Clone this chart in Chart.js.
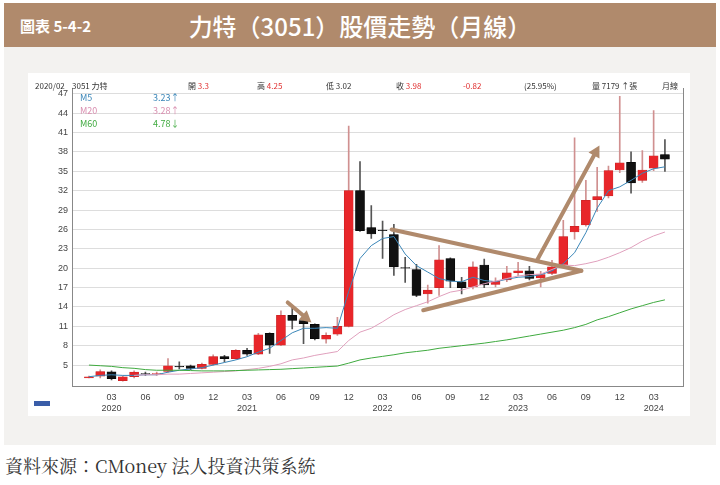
<!DOCTYPE html>
<html>
<head>
<meta charset="utf-8">
<script src="https://cdn.jsdelivr.net/npm/chart.js@4"></script>
<style>
  body { margin: 0; width: 720px; height: 485px; background: #fff; font-family: "Noto Sans CJK TC", "Noto Sans", sans-serif; position: relative; overflow: hidden; }
  .banner { position: absolute; left: 4px; top: 3px; width: 712px; height: 44px; background: #b08a6c; color: #fff; }
  .banner .no { position: absolute; left: 16px; top: 12px; font-size: 15px; font-weight: bold; }
  .banner .title { position: absolute; left: 0; width: 712px; top: 5px; text-align: center; font-size: 24px; font-weight: 500; }
  .panel { position: absolute; left: 4px; top: 47px; width: 712px; height: 398px; background: #f3f2f0; }
  .box { position: absolute; left: 28px; top: 73px; width: 662px; height: 343px; background: #fff; }
  .hd { position: absolute; top: 80px; font-size: 8px; color: #333; white-space: nowrap; }
  .r { color: #e03030; }
  .lg { position: absolute; font-size: 9px; white-space: nowrap; }
  .src { position: absolute; left: 5px; top: 452px; font-size: 18px; color: #333; font-family: "Noto Serif CJK TC", "DejaVu Serif", "Noto Sans CJK TC", serif; }
  .zoom { position: absolute; left: 34px; top: 401px; width: 16px; height: 5px; background: #3a5da8; }
</style>
</head>
<body>
<div class="banner"><span class="no">圖表 5-4-2</span><div class="title">力特（3051）股價走勢（月線）</div></div>
<div class="panel"></div>
<div class="box"><canvas id="chart" width="662" height="343"></canvas></div>
<div class="hd" style="left:35px">2020/02</div>
<div class="hd" style="left:72px">3051 力特</div>
<div class="hd" style="left:188px">開 <span class="r">3.3</span></div>
<div class="hd" style="left:257px">高 <span class="r">4.25</span></div>
<div class="hd" style="left:326px">低 3.02</div>
<div class="hd" style="left:396px">收 <span class="r">3.98</span></div>
<div class="hd r" style="left:463px">-0.82</div>
<div class="hd" style="left:524px">(25.95%)</div>
<div class="hd" style="left:592px">量 7179 ↑張</div>
<div class="hd" style="left:662px">月線</div>
<div class="lg" style="left:80px;top:91px;color:#3a86b8">M5</div>
<div class="lg" style="left:153px;top:91px;color:#3a86b8">3.23↑</div>
<div class="lg" style="left:80px;top:104px;color:#d98fb0">M20</div>
<div class="lg" style="left:153px;top:104px;color:#d98fb0">3.28↑</div>
<div class="lg" style="left:80px;top:117px;color:#3faa3f">M60</div>
<div class="lg" style="left:153px;top:117px;color:#3faa3f">4.78↓</div>
<div class="zoom"></div>
<div class="src">資料來源：CMoney 法人投資決策系統</div>
<script>
// months 2020/01 .. 2024/04
const months = [];
for (let y = 2020; y <= 2024; y++) {
  for (let m = 1; m <= 12; m++) {
    if (y === 2024 && m > 4) break;
    months.push({ y: y, m: m });
  }
}

const open  = [3.0,3.3,3.95,2.6,3.2,3.7,3.6,4.0,4.8,4.9,4.5,5.1,
               6.3,6.0,7.3,6.7,9.9,8.1,12.7,11.9,11.3,9.0,9.8,11.0,
               32.0,26.3,25.9,25.2,20.1,19.8,16.0,17.0,21.5,17.9,17.1,20.5,
               17.5,18.2,19.3,19.6,18.5,19.2,20.5,25.6,26.7,30.6,31.2,35.2,
               36.4,33.6,35.5,37.6];
const close = [3.2,3.98,2.9,3.2,3.9,3.6,3.7,4.9,4.7,4.5,5.1,6.3,
               6.0,7.3,6.7,9.7,8.1,12.7,11.9,11.4,9.1,9.6,11.0,32.0,
               25.8,25.3,25.8,20.2,20.0,15.8,16.6,21.3,18.0,17.0,20.2,17.4,
               18.0,19.3,19.6,18.4,19.0,20.2,24.9,26.5,30.5,31.1,35.1,36.3,
               33.2,35.2,37.4,36.9];
const high  = [3.3,4.25,4.1,3.3,4.1,3.9,3.9,6.0,5.5,5.0,5.3,6.6,
               6.5,7.4,7.6,9.9,10.0,13.4,13.9,12.5,11.4,10.0,12.4,42.0,
               36.5,29.7,27.3,26.8,21.7,20.6,17.4,23.5,21.6,18.6,21.0,21.4,
               18.5,20.3,20.9,20.3,19.5,21.2,27.4,40.2,33.6,35.6,35.8,46.6,
               38.0,38.2,44.4,39.9];
const low   = [3.0,3.02,2.7,2.5,3.0,3.4,3.4,3.9,4.4,4.3,4.4,5.0,
               5.5,5.9,6.5,6.6,6.8,8.0,10.6,8.3,8.9,8.4,9.6,10.9,
               25.7,24.6,21.5,18.9,17.8,15.6,14.6,15.8,17.0,16.0,16.8,17.0,
               17.1,17.9,18.8,18.2,17.1,19.0,20.3,24.5,26.5,28.8,30.9,34.8,
               31.6,33.3,35.1,35.0];

const m5  = [3.2,3.4,3.5,3.4,3.4,3.5,3.5,3.9,4.2,4.4,4.6,5.0,
             5.4,5.8,6.3,7.0,7.6,8.8,10.0,10.7,10.7,10.8,10.7,16.4,
             21.5,23.5,24.6,24.9,22.2,20.4,19.4,18.4,18.0,17.9,18.6,18.1,
             17.9,18.3,18.6,18.7,19.0,19.6,20.7,22.4,25.5,29.3,32.0,32.6,
             33.6,34.7,35.4,35.7];
const m20 = [null,null,null,null,3.4,3.5,3.5,3.6,3.6,3.7,3.8,3.9,
             4.0,4.1,4.3,4.5,4.8,5.2,5.8,6.1,6.5,6.8,7.1,8.8,
             10.1,10.7,11.7,12.8,13.6,14.2,14.8,15.6,16.3,16.6,17.1,17.6,
             18.0,18.4,18.8,19.0,19.1,19.8,20.5,20.4,20.7,21.1,21.7,22.4,
             23.2,24.2,25.0,25.6];
const m60 = [5.0,4.9,4.8,4.6,4.5,4.3,4.2,4.2,4.2,4.15,4.1,4.1,
             4.1,4.15,4.2,4.25,4.3,4.35,4.45,4.55,4.65,4.75,4.85,5.3,
             5.8,6.1,6.35,6.6,6.9,7.1,7.3,7.6,7.8,8.0,8.2,8.4,
             8.65,8.9,9.2,9.5,9.8,10.1,10.4,10.8,11.3,12.0,12.5,13.1,
             13.7,14.2,14.7,15.1];

const yTicks = [5,8,11,14,17,20,23,26,29,32,35,38,41,44,47];

// hand-drawn marks on the picture, in [month index, price]
const arrows = [
  { from: [17.6, 14.7], to: [19.7, 11.6], head: true },
  { from: [39.7, 21.3], to: [45.2, 39.0], head: true },
  { from: [26.8, 26.0], to: [43.6, 19.6], head: false },
  { from: [29.6, 13.5], to: [43.6, 19.6], head: false }
];

const RED = "#e8262a", BLACK = "#111111";
const up = open.map((o, i) => close[i] >= o);

const body = open.map((o, i) => ({ x: i, y: [o, close[i]] }));
const wick = low.map((l, i) => ({ x: i, y: [l, high[i]] }));
const line = (arr) => arr.map((v, i) => ({ x: i, y: v }));

const arrowPlugin = {
  id: "arrows",
  afterDatasetsDraw(chart) {
    const { ctx, scales, chartArea } = chart;
    ctx.save();
    // right frame line
    ctx.strokeStyle = "#888";
    ctx.lineWidth = 1;
    ctx.beginPath(); ctx.moveTo(chartArea.right + 0.5, chartArea.top); ctx.lineTo(chartArea.right + 0.5, chartArea.bottom); ctx.stroke();

    ctx.strokeStyle = "#b08a6c";
    ctx.fillStyle = "#b08a6c";
    ctx.lineWidth = 4;
    ctx.lineCap = "round";
    arrows.forEach((a) => {
      const x1 = scales.x.getPixelForValue(a.from[0]), y1 = scales.y.getPixelForValue(a.from[1]);
      const x2 = scales.x.getPixelForValue(a.to[0]), y2 = scales.y.getPixelForValue(a.to[1]);
      const ang = Math.atan2(y2 - y1, x2 - x1);
      const ex = a.head ? x2 - 8 * Math.cos(ang) : x2;
      const ey = a.head ? y2 - 8 * Math.sin(ang) : y2;
      ctx.beginPath(); ctx.moveTo(x1, y1); ctx.lineTo(ex, ey); ctx.stroke();
      if (a.head) {
        ctx.beginPath();
        ctx.moveTo(x2, y2);
        ctx.lineTo(x2 - 13 * Math.cos(ang - 0.5), y2 - 13 * Math.sin(ang - 0.5));
        ctx.lineTo(x2 - 13 * Math.cos(ang + 0.5), y2 - 13 * Math.sin(ang + 0.5));
        ctx.closePath(); ctx.fill();
      }
    });
    ctx.restore();
  }
};

new Chart(document.getElementById("chart"), {
  type: "bar",
  data: {
    datasets: [
      { type: "line", data: line(m60), borderColor: "#3faa3f", borderWidth: 1, pointRadius: 0, order: 1 },
      { type: "line", data: line(m20), borderColor: "#e0a0bd", borderWidth: 1, pointRadius: 0, order: 1 },
      { type: "line", data: line(m5), borderColor: "#3a86b8", borderWidth: 1, pointRadius: 0, order: 1 },
      {
        data: body, barThickness: 9, grouped: false, order: 2,
        backgroundColor: up.map((u) => (u ? RED : BLACK)),
        borderColor: up.map((u) => (u ? "#c02020" : "#000")), borderWidth: 0.5, borderSkipped: false
      },
      {
        data: wick, barThickness: 1, grouped: false, order: 3,
        backgroundColor: up.map((u) => (u ? "#d09090" : "#555"))
      }
    ]
  },
  options: {
    responsive: false,
    animation: false,
    layout: { padding: { left: 2, right: 7, top: 15, bottom: 0 } },
    plugins: { legend: { display: false }, tooltip: { enabled: false } },
    scales: {
      x: {
        type: "linear", min: -1.5, max: 52.6, offset: false,
        grid: { display: false, drawTicks: true, tickLength: 4 },
        border: { color: "#888" },
        afterBuildTicks(axis) {
          axis.ticks = months.map((d, i) => ({ value: i })).filter((t) => months[t.value].m % 3 === 0);
        },
        ticks: {
          autoSkip: false, maxRotation: 0, color: "#444", font: { size: 9 }, padding: 2,
          callback(v) {
            const d = months[v];
            const mm = String(d.m).padStart(2, "0");
            return d.m === 3 ? [mm, String(d.y)] : mm;
          }
        }
      },
      y: {
        min: 1.7, max: 47.9,
        afterFit(axis) { axis.width = 42; },
        afterBuildTicks(axis) { axis.ticks = yTicks.map((v) => ({ value: v })); },
        grid: { color: "#dddddd", drawTicks: false },
        border: { color: "#888" },
        ticks: { color: "#444", font: { size: 9 }, padding: 4 }
      }
    }
  },
  plugins: [arrowPlugin]
});
</script>
</body>
</html>
